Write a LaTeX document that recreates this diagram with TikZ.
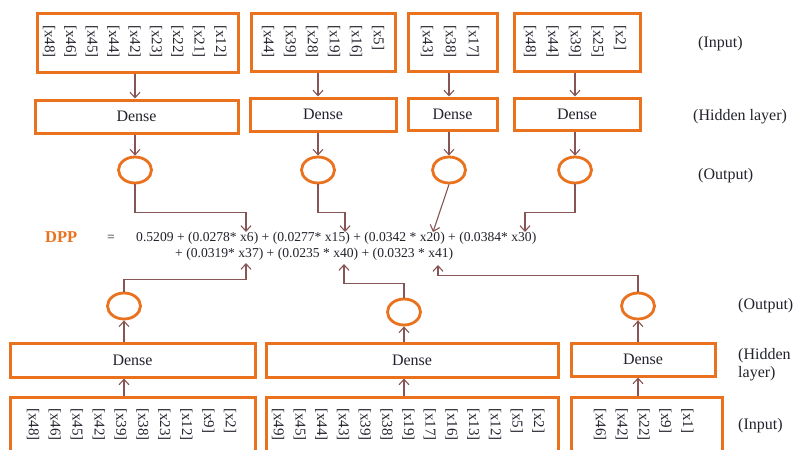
\documentclass[tikz,border=0pt]{standalone}
\usepackage{fontspec}
\setmainfont{Liberation Serif}
\usetikzlibrary{arrows.meta,shapes.geometric,calc}
\definecolor{org}{RGB}{234,114,30}
\definecolor{lnk}{RGB}{135,85,85}
\definecolor{txt}{RGB}{35,35,45}
\begin{document}
\begin{tikzpicture}[x=1pt,y=-1pt,
  box/.style n args={2}{draw=org,line width=3pt,inner sep=0pt,minimum width=#1,minimum height=#2,text=txt,font=\fontsize{16}{18}\selectfont},
  outc/.style={draw=org,line width=2.8pt,ellipse,inner sep=0pt,minimum width=33pt,minimum height=26pt},
  arr/.style={draw=lnk,line width=1.1pt,-{Straight Barb[length=5.5pt,width=10pt]}},
  lbl/.style={rotate=-90,anchor=west,inner sep=0pt,text=txt,font=\fontsize{15}{17}\selectfont},
  side/.style={anchor=base west,inner sep=0pt,text=txt,font=\fontsize{16}{18}\selectfont},
  eq/.style={anchor=base west,inner sep=0pt,text=txt,font=\fontsize{13.6}{16}\selectfont}]
\useasboundingbox (0,0) rectangle (796,450);
\fill[white] (0,0) rectangle (796,450);

% ---------- top part ----------
\node[box={201pt}{59pt}] (in1) at (137.5,42.5) {};
\node[box={144pt}{58pt}] (in2) at (323,42) {};
\node[box={89pt}{58pt}] (in3) at (452.5,42) {};
\node[box={126pt}{58pt}] (in4) at (577,42) {};

\foreach \t [count=\i] in {48,46,45,44,42,23,22,21,12}
  \node[lbl] (ta\i) at ({49+21.4*(\i-1)},25) {[x\t]};
\foreach \t [count=\i] in {44,39,28,19,16,5}
  \node[lbl] (tb\i) at ({268+22*(\i-1)},25) {[x\t]};
\foreach \t [count=\i] in {43,38,17}
  \node[lbl] (tc\i) at ({427+23*(\i-1)},25) {[x\t]};
\foreach \t [count=\i] in {48,44,39,25,2}
  \node[lbl] (td\i) at ({530+22.5*(\i-1)},25) {[x\t]};

\node[box={203pt}{33pt}] (d1) at (136.5,116.5) {Dense};
\node[box={146pt}{33pt}] (d2) at (323,114.5) {Dense};
\node[box={89pt}{32pt}] (d3) at (452.5,114) {Dense};
\node[box={126pt}{32pt}] (d4) at (577,114) {Dense};

\node[outc] (c1) at (135,170) {};
\node[outc] (c2) at (318,170) {};
\node[outc] (c3) at (449,170) {};
\node[outc] (c4) at (575,170) {};

\foreach \k in {1,2,3,4}{
  \draw[arr] (in\k.south -| c\k) -- (d\k.north -| c\k);
  \draw[arr] (d\k.south -| c\k) -- (c\k.north);
}

\node[side] (lin1) at (698,47) {(Input)};
\node[side] (lhid1) at (693,120) {(Hidden layer)};
\node[side] (lout1) at (698,179) {(Output)};

% ---------- equation ----------
\node[anchor=base west,inner sep=0pt,text=org,font=\fontsize{16.5}{18}\selectfont\bfseries] (dpp) at (45,242) {DPP};
\node[eq] (eqs) at (107,241) {=};
\node[eq] (eq1) at (136,241) {0.5209 + (0.0278* x6) + (0.0277* x15) + (0.0342 * x20) + (0.0384* x30)};
\node[eq] (eq2) at (175,257) {+ (0.0319* x37) + (0.0235 * x40) + (0.0323 * x41)};

\coordinate (t1) at (246,232);
\coordinate (t2) at (345,232);
\coordinate (t3) at (433,232);
\coordinate (t4) at (525,232);
\draw[arr] (c1.south) -- ++(0,28) -| (t1);
\draw[arr] (c2.south) -- ++(0,28) -| (t2);
\draw[arr] (c3.south) -- (t3);
\draw[arr] (c4.south) -- ++(0,28) -| (t4);

\coordinate (u1) at (246,263);
\coordinate (u2) at (344,264);
\coordinate (u3) at (438,265);

% ---------- bottom part ----------
\node[outc] (cb1) at (124,306) {};
\node[outc] (cb2) at (404,312) {};
\node[outc] (cb3) at (638,306) {};

\draw[arr] (cb1.north) -- ++(0,-12.5) -| (u1);
\draw[arr] (cb2.north) -- ++(0,-14) -| (u2);
\draw[arr] (cb3.north) -- ++(0,-16.5) -| (u3);

\node[box={245pt}{34pt}] (db1) at (132.5,360) {Dense};
\node[box={292pt}{34pt}] (db2) at (412,360) {Dense};
\node[box={144pt}{33pt}] (db3) at (643,359.5) {Dense};

\node[box={245pt}{73pt}] (ib1) at (132.5,433.5) {};
\node[box={292pt}{73pt}] (ib2) at (412,433.5) {};
\node[box={151pt}{73pt}] (ib3) at (646.5,433.5) {};

\foreach \t [count=\i] in {48,46,45,42,39,38,23,12,9,2}
  \node[lbl] (ba\i) at ({33+21.9*(\i-1)},408) {[x\t]};
\foreach \t [count=\i] in {49,45,44,43,39,38,19,17,16,13,12,5,2}
  \node[lbl] (bb\i) at ({278+21.7*(\i-1)},408) {[x\t]};
\foreach \t [count=\i] in {46,42,22,9,1}
  \node[lbl] (bc\i) at ({600+21.8*(\i-1)},408) {[x\t]};

\foreach \k in {1,2,3}{
  \draw[arr] (ib\k.north -| cb\k) -- (db\k.south -| cb\k);
  \draw[arr] (db\k.north -| cb\k) -- (cb\k.south);
}

\node[side] (lout2) at (738,309) {(Output)};
\node[side] (lhid2) at (738,359) {(Hidden};
\node[side] (lhid2b) at (738,377) {layer)};
\node[side] (lin2) at (738,429) {(Input)};
\end{tikzpicture}
\end{document}
